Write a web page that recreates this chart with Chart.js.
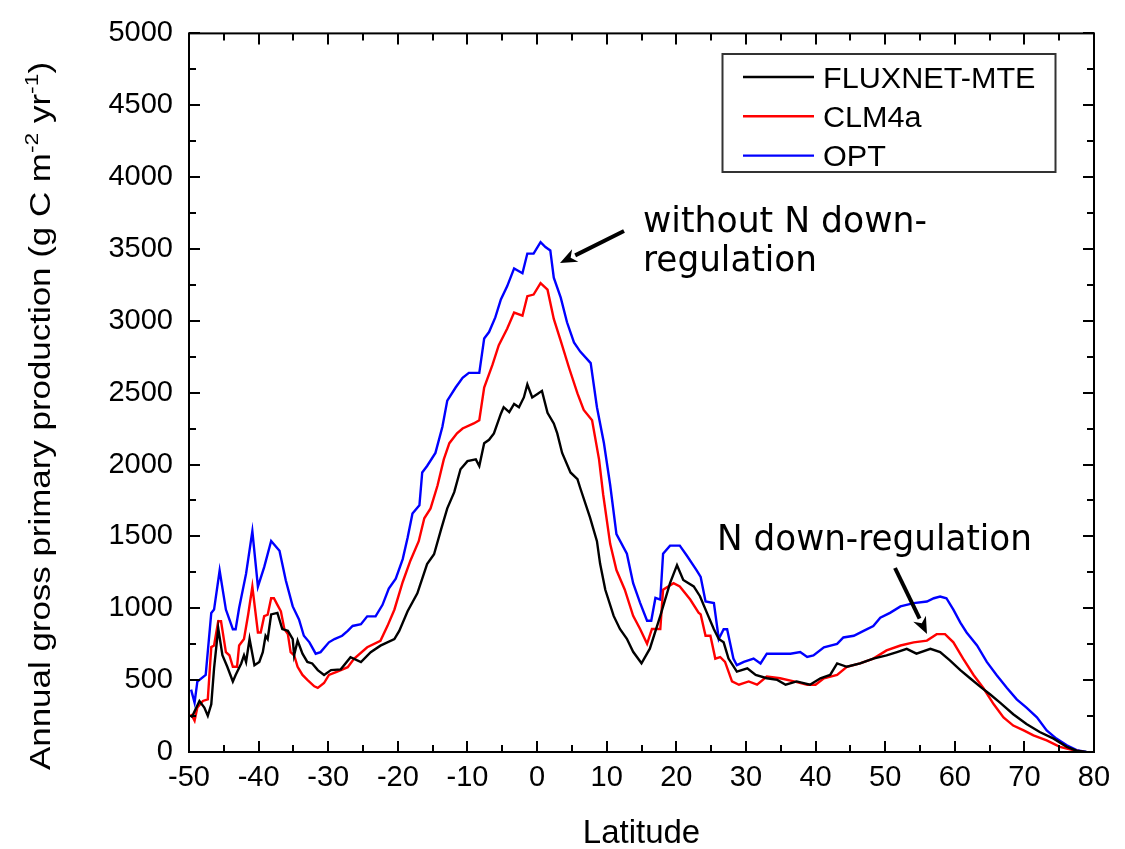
<!DOCTYPE html>
<html>
<head>
<meta charset="utf-8">
<script src="https://cdn.jsdelivr.net/npm/chart.js@4.4.1/dist/chart.umd.min.js"></script>
<style>
  html, body { margin: 0; background: #fff; }
  #wrap { width: 1125px; height: 849px; }
</style>
</head>
<body>
<div id="wrap"><canvas id="c" width="1125" height="849"></canvas></div>
<script>
// latitude (deg) and annual GPP (g C m-2 yr-1)
const fluxLat = [-49.7, -49.5, -48.5, -47.8, -47.3, -46.8, -46.4, -45.8, -45.2, -44.5, -43.7, -43.3, -42.5, -42.1, -41.8, -41.3, -40.6, -39.9, -39.4, -39.0, -38.7, -38.2, -37.3, -36.6, -35.8, -35.1, -34.9, -34.4, -33.7, -33.0, -32.3, -31.5, -30.6, -29.6, -28.2, -26.8, -25.3, -23.9, -22.5, -20.5, -19.8, -18.6, -17.2, -15.8, -14.8, -13.8, -12.9, -11.9, -11.0, -10.0, -8.8, -8.3, -7.6, -6.9, -6.2, -5.2, -4.8, -4.0, -3.3, -2.6, -1.9, -1.4, -0.7, 0.0, 0.7, 1.5, 2.4, 2.9, 3.6, 4.8, 5.8, 6.2, 7.6, 8.6, 9.05, 9.8, 11.0, 11.9, 12.9, 13.8, 15.0, 16.2, 17.7, 19.1, 20.1, 21.0, 22.5, 23.4, 24.4, 25.4, 26.1, 26.8, 27.5, 28.7, 30.2, 31.4, 33.0, 34.5, 35.7, 37.3, 39.2, 40.7, 42.1, 43.1, 44.5, 46.4, 48.3, 50.2, 51.7, 53.1, 54.5, 56.5, 57.9, 59.3, 60.8, 62.2, 63.6, 65.1, 66.5, 68.4, 70.3, 72.2, 74.2, 76.1, 77.5, 78.9];
const fluxGpp = [240, 252, 355, 309, 252, 332, 582, 860, 673, 593, 491, 536, 616, 673, 627, 786, 604, 627, 695, 809, 786, 957, 968, 855, 843, 786, 673, 775, 684, 627, 616, 570, 536, 570, 575, 660, 626, 694, 740, 785, 842, 979, 1104, 1308, 1376, 1547, 1695, 1808, 1967, 2024, 2036, 1990, 2149, 2172, 2217, 2354, 2399, 2365, 2422, 2399, 2467, 2558, 2467, 2490, 2513, 2360, 2286, 2217, 2081, 1945, 1899, 1837, 1632, 1467, 1311, 1129, 947, 856, 788, 697, 617, 719, 947, 1175, 1300, 1197, 1152, 1084, 968, 854, 786, 763, 650, 559, 582, 536, 513, 502, 468, 491, 468, 513, 536, 616, 593, 616, 650, 672, 695, 718, 684, 718, 695, 638, 570, 513, 457, 400, 343, 263, 195, 139, 93, 36, 9, 0];

const clmLat = [-49.7, -49.2, -48.8, -48.0, -47.3, -46.8, -46.4, -45.8, -45.4, -44.7, -44.2, -43.7, -43.1, -42.8, -42.1, -41.5, -40.9, -40.1, -39.7, -39.2, -38.7, -38.2, -37.8, -37.3, -36.8, -36.3, -35.8, -35.4, -34.9, -34.4, -33.7, -33.0, -32.0, -31.5, -30.6, -29.9, -28.7, -27.2, -26.3, -24.4, -22.5, -21.5, -20.5, -19.3, -18.2, -17.0, -16.2, -15.3, -14.3, -13.4, -12.6, -11.5, -10.7, -9.1, -8.3, -7.6, -6.4, -5.5, -4.3, -3.3, -2.1, -1.4, -0.5, 0.5, 1.5, 2.4, 3.4, 4.6, 5.8, 6.7, 7.9, 8.9, 9.5, 10.5, 11.4, 12.6, 13.8, 14.8, 15.8, 16.5, 17.7, 18.1, 19.6, 20.5, 22.0, 23.2, 23.5, 24.2, 24.9, 25.6, 26.3, 27.0, 28.0, 29.0, 30.4, 31.6, 33.0, 34.9, 36.9, 38.8, 40.0, 41.2, 43.1, 44.5, 46.4, 48.3, 50.2, 52.2, 54.1, 56.0, 57.4, 58.6, 59.8, 61.2, 62.7, 64.1, 65.6, 67.0, 68.4, 69.9, 71.3, 73.2, 75.1, 77.0, 78.5];
const clmGpp = [264, 218, 309, 355, 366, 730, 741, 910, 910, 695, 673, 593, 593, 741, 786, 957, 1150, 832, 832, 945, 955, 1070, 1070, 1024, 979, 855, 820, 695, 673, 593, 536, 502, 457, 446, 480, 536, 559, 590, 649, 729, 774, 876, 990, 1183, 1331, 1467, 1626, 1695, 1854, 2036, 2149, 2217, 2251, 2286, 2308, 2536, 2695, 2831, 2945, 3058, 3036, 3172, 3183, 3263, 3217, 3013, 2860, 2672, 2495, 2380, 2308, 2036, 1790, 1448, 1266, 1129, 947, 856, 753, 856, 856, 1129, 1175, 1152, 1061, 970, 957, 809, 809, 650, 661, 627, 491, 468, 491, 468, 525, 513, 491, 468, 468, 513, 536, 593, 616, 650, 707, 741, 763, 775, 820, 820, 763, 650, 536, 445, 332, 241, 184, 150, 116, 81, 36, 13, 0];

const optLat = [-49.7, -49.2, -48.8, -47.6, -46.8, -46.4, -45.6, -44.7, -43.7, -43.3, -42.8, -41.8, -40.9, -40.1, -39.2, -38.2, -37.0, -36.1, -35.1, -34.2, -33.5, -32.7, -31.8, -31.1, -29.9, -29.1, -28.0, -27.2, -26.5, -25.3, -24.4, -23.2, -22.2, -21.3, -20.3, -19.3, -18.6, -17.9, -16.9, -16.5, -15.8, -14.6, -13.6, -12.9, -11.7, -10.7, -9.8, -8.3, -7.6, -6.9, -6.0, -5.2, -4.3, -3.3, -2.1, -1.4, -0.5, 0.5, 1.2, 1.9, 2.4, 3.4, 4.3, 5.3, 6.2, 7.7, 8.6, 9.6, 10.5, 11.4, 12.9, 13.8, 14.8, 15.8, 16.4, 17.0, 17.7, 18.1, 19.1, 20.5, 21.5, 22.9, 23.5, 24.2, 25.4, 26.1, 26.8, 27.3, 28.2, 28.7, 29.7, 31.1, 32.1, 33.0, 36.4, 37.8, 38.8, 39.7, 41.2, 43.1, 44.0, 45.5, 46.9, 48.3, 49.3, 50.7, 52.2, 54.1, 56.0, 57.0, 57.9, 58.8, 59.8, 60.8, 61.7, 63.2, 64.6, 66.0, 67.5, 68.9, 70.3, 71.8, 73.2, 74.6, 76.1, 77.5, 78.9];
const optGpp = [434, 344, 490, 536, 968, 991, 1263, 991, 854, 854, 1002, 1241, 1536, 1150, 1286, 1468, 1400, 1195, 1013, 922, 809, 763, 684, 695, 763, 786, 809, 843, 877, 889, 944, 944, 1024, 1138, 1206, 1342, 1490, 1660, 1717, 1945, 1990, 2081, 2263, 2445, 2536, 2604, 2638, 2638, 2877, 2922, 3024, 3149, 3240, 3365, 3331, 3468, 3468, 3547, 3513, 3490, 3300, 3161, 2990, 2850, 2786, 2706, 2399, 2150, 1858, 1516, 1380, 1175, 1038, 913, 913, 1072, 1060, 1380, 1436, 1436, 1367, 1266, 1218, 1047, 1036, 786, 854, 854, 650, 604, 627, 650, 616, 684, 684, 695, 661, 672, 729, 752, 797, 809, 843, 877, 934, 968, 1013, 1036, 1047, 1070, 1082, 1070, 991, 900, 832, 741, 627, 536, 445, 366, 309, 241, 150, 93, 47, 13, 0];

const seriesNames = ["FLUXNET-MTE", "CLM4a", "OPT"];
const seriesColors = ["#000000", "#ff0000", "#0000ff"];
const latMin = -50, latMax = 80, latStep = 10;
const gppMin = 0, gppMax = 5000, gppStep = 500;

const sans = "'Liberation Sans', Arial, sans-serif";
const comic = "'Comic Sans MS', 'DejaVu Sans', sans-serif";

const toPoints = (lat, gpp) => lat.map((x, i) => ({ x, y: gpp[i] }));

// text squeezed/stretched to a given width
const fitText = (ctx, text, x, y, width) => {
    const w = ctx.measureText(text).width;
    ctx.save();
    ctx.translate(x, y);
    ctx.scale(width / w, 1);
    ctx.fillText(text, 0, 0);
    ctx.restore();
};

const arrow = (ctx, x1, y1, x2, y2) => {
    const ang = Math.atan2(y2 - y1, x2 - x1);
    const head = 17, half = 7;
    const bx = x2 - head * Math.cos(ang), by = y2 - head * Math.sin(ang);
    ctx.beginPath();
    ctx.moveTo(x1, y1);
    ctx.lineTo(bx, by);
    ctx.lineWidth = 4;
    ctx.stroke();
    ctx.beginPath();
    ctx.moveTo(x2, y2);
    ctx.lineTo(bx - half * Math.sin(ang), by + half * Math.cos(ang));
    ctx.lineTo(x2 - 0.7 * head * Math.cos(ang), y2 - 0.7 * head * Math.sin(ang));
    ctx.lineTo(bx + half * Math.sin(ang), by - half * Math.cos(ang));
    ctx.closePath();
    ctx.fill();
};

const decorations = {
    id: "decorations",
    afterDatasetsDraw(chart) {
        const { ctx, chartArea: a, scales: { x, y } } = chart;
        ctx.save();
        ctx.strokeStyle = "#000";
        ctx.fillStyle = "#000";

        // frame with inward ticks on all sides
        ctx.lineWidth = 2;
        ctx.strokeRect(a.left, a.top, a.right - a.left, a.bottom - a.top);
        ctx.beginPath();
        for (let v = latMin; v <= latMax; v += latStep / 2) {
            const px = Math.round(x.getPixelForValue(v));
            const len = v % latStep === 0 ? 11 : 7;
            ctx.moveTo(px, a.bottom); ctx.lineTo(px, a.bottom - len);
            ctx.moveTo(px, a.top); ctx.lineTo(px, a.top + len);
        }
        for (let v = gppMin; v <= gppMax; v += gppStep / 2) {
            const py = Math.round(y.getPixelForValue(v));
            const len = v % gppStep === 0 ? 11 : 7;
            ctx.moveTo(a.left, py); ctx.lineTo(a.left + len, py);
            ctx.moveTo(a.right, py); ctx.lineTo(a.right - len, py);
        }
        ctx.stroke();

        // legend box
        ctx.strokeStyle = "#333";
        ctx.lineWidth = 2;
        ctx.strokeRect(722.5, 54, 333, 118);
        ctx.font = `30px ${sans}`;
        ctx.textBaseline = "alphabetic";
        ctx.textAlign = "left";
        chart.data.datasets.forEach((ds, i) => {
            const ry = 77 + i * 39.3;
            ctx.strokeStyle = ds.borderColor;
            ctx.lineWidth = 2.4;
            ctx.beginPath();
            ctx.moveTo(743, ry); ctx.lineTo(814, ry);
            ctx.stroke();
            fitText(ctx, ds.label, 823, ry + 10.7, ctx.measureText(ds.label).width * 1.02);
        });

        // annotations
        ctx.strokeStyle = "#000";
        ctx.font = `35px ${comic}`;
        fitText(ctx, "without N down-", 643, 232, 284);
        fitText(ctx, "regulation", 643, 271, 174);
        fitText(ctx, "N down-regulation", 717, 550, 315);
        arrow(ctx, 624, 231, 560, 263);
        arrow(ctx, 895, 568, 927, 634);

        // axis titles
        ctx.font = `33px ${sans}`;
        ctx.textAlign = "center";
        ctx.fillText("Latitude", (a.left + a.right) / 2, 843);

        const main = 29, sup = 19;
        const parts = [
            ["Annual gross primary production (g C m", main, 0],
            ["-2", sup, -12],
            [" yr", main, 0],
            ["-1", sup, -12],
            [")", main, 0]
        ];
        ctx.textAlign = "left";
        let total = 0;
        parts.forEach(p => { ctx.font = `${p[1]}px ${sans}`; p.push(ctx.measureText(p[0]).width); total += p[3]; });
        ctx.save();
        ctx.translate(50, 416);
        ctx.rotate(-Math.PI / 2);
        ctx.scale(708 / total, 1);
        let cx = -total / 2;
        parts.forEach(p => {
            ctx.font = `${p[1]}px ${sans}`;
            ctx.fillText(p[0], cx, p[2]);
            cx += p[3];
        });
        ctx.restore();

        ctx.restore();
    }
};

new Chart(document.getElementById("c"), {
    type: "line",
    data: {
        datasets: [
            { label: seriesNames[0], data: toPoints(fluxLat, fluxGpp), borderColor: seriesColors[0] },
            { label: seriesNames[1], data: toPoints(clmLat, clmGpp), borderColor: seriesColors[1] },
            { label: seriesNames[2], data: toPoints(optLat, optGpp), borderColor: seriesColors[2] }
        ]
    },
    options: {
        responsive: false,
        animation: false,
        layout: { padding: { left: 0, right: 31, top: 20, bottom: 0 } },
        elements: {
            point: { radius: 0 },
            line: { borderWidth: 2.4, tension: 0, fill: false }
        },
        plugins: {
            legend: { display: false },
            tooltip: { enabled: false }
        },
        scales: {
            x: {
                type: "linear",
                min: latMin,
                max: latMax,
                grid: { display: false, drawTicks: false },
                border: { display: false },
                ticks: {
                    stepSize: latStep,
                    color: "#000",
                    font: { family: sans, size: 29 },
                    padding: 9,
                    maxRotation: 0,
                    autoSkip: false,
                    callback: (v) => String(v)
                },
                afterFit: (s) => { s.height = 97; }
            },
            y: {
                min: gppMin,
                max: gppMax,
                grid: { display: false, drawTicks: false },
                border: { display: false },
                ticks: {
                    stepSize: gppStep,
                    color: "#000",
                    font: { family: sans, size: 29 },
                    padding: 16,
                    callback: (v) => String(v)
                },
                afterFit: (s) => { s.width = 189; }
            }
        }
    },
    plugins: [decorations]
});
</script>
</body>
</html>
